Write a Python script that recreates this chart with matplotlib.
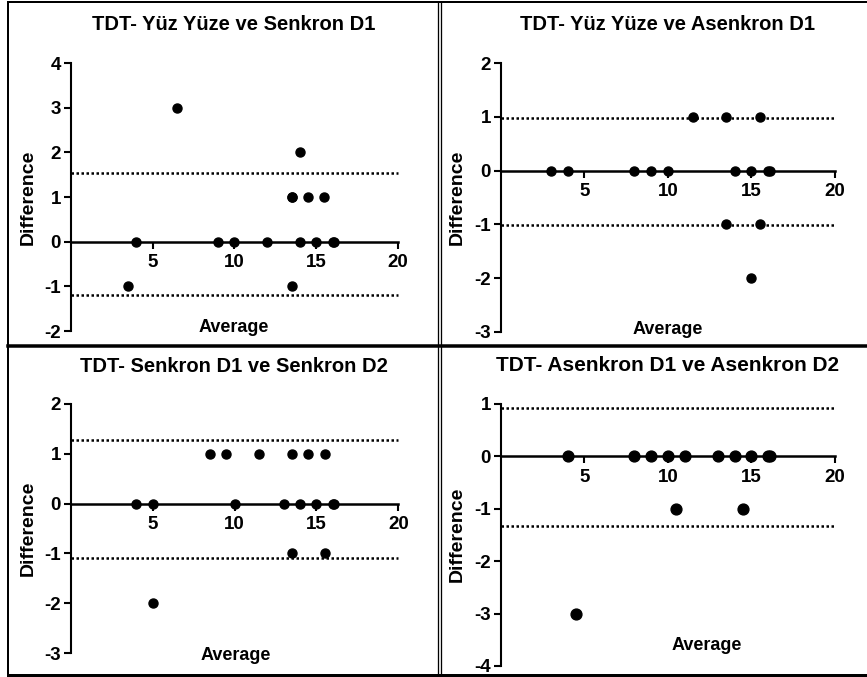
import matplotlib.pyplot as plt
from matplotlib.lines import Line2D

plt.rcParams['font.family'] = ['Liberation Sans', 'DejaVu Sans']
plt.rcParams['font.weight'] = 'bold'
plt.rcParams['axes.unicode_minus'] = False

W, H = 867, 677

# panel titles
titles = [
    'TDT- Yüz Yüze ve Senkron D1',
    'TDT- Yüz Yüze ve Asenkron D1',
    'TDT- Senkron D1 ve Senkron D2',
    'TDT- Asenkron D1 ve Asenkron D2',
]

# Bland-Altman points: average (x) and difference (y)
avg_1 = [3.5, 4, 6.5, 9, 10, 12, 13.5, 13.5, 13.5, 14, 14, 14.5, 15, 15.5, 16, 16.1]
diff_1 = [-1, 0, 3, 0, 0, 0, 1, -1, 1, 2, 0, 1, 0, 1, 0, 0]

avg_2 = [3, 4, 8, 9, 10, 11.5, 13.5, 13.5, 14, 15, 15, 15.5, 15.5, 16, 16.1]
diff_2 = [0, 0, 0, 0, 0, 1, 1, -1, 0, 0, -2, 1, -1, 0, 0]

avg_3 = [4, 5, 5, 8.5, 9.5, 10, 11.5, 13, 13.5, 13.5, 14, 14.5, 15, 15.5, 15.5, 16, 16.1]
diff_3 = [0, 0, -2, 1, 1, 0, 1, 0, 1, -1, 0, 1, 0, 1, -1, 0, 0]

avg_4 = [4, 4.5, 8, 9, 10, 10.5, 11, 13, 14, 14.5, 15, 16, 16.1]
diff_4 = [0, -3, 0, 0, 0, -1, 0, 0, 0, -1, 0, 0, 0]

# limits of agreement (upper, lower)
loa = [(1.53, -1.2), (0.97, -1.02), (1.27, -1.1), (0.93, -1.33)]

# y axis ranges
ylims = [(-2, 4), (-3, 2), (-3, 2), (-4, 1)]
xtick_vals = [5, 10, 15, 20]

xs = [avg_1, avg_2, avg_3, avg_4]
ys = [diff_1, diff_2, diff_3, diff_4]

# axes boxes in pixels: x0, x20, ytop, ybottom
boxes = [(70.7, 398, 63, 331), (500.7, 835, 63, 332),
         (70.7, 398.3, 404, 653), (500.7, 835, 404, 666)]
title_pos = [(234, 24), (668, 24), (234, 367), (668, 366)]
ylabel_pos = [(28, 197), (457, 197), (28, 528), (457, 534)]
xlabel_pos = [(234, 328), (668, 330), (236, 656), (707, 646)]
msizes = [6.5, 6.5, 6.5, 7.8]
title_sizes = [14.5, 14.5, 14.5, 15]


def fx(px):
    return px / W


def fy(py):
    return 1 - py / H


fig = plt.figure(figsize=(W / 100, H / 100), dpi=100)

for i in range(4):
    x0, x1, yt, yb = boxes[i]
    ax = fig.add_axes([fx(x0), fy(yb), fx(x1 - x0), (yb - yt) / H])
    ax.set_xlim(0, 20)
    ax.set_ylim(*ylims[i])
    for s in ['top', 'right']:
        ax.spines[s].set_visible(False)
    ax.spines['bottom'].set_position(('data', 0))
    ax.spines['bottom'].set_linewidth(1.8)
    ax.spines['left'].set_linewidth(1.5)
    yt_vals = list(range(ylims[i][0], ylims[i][1] + 1))
    ax.set_xticks(xtick_vals)
    ax.set_xticklabels([str(v) for v in xtick_vals], fontweight='bold')
    ax.set_yticks(yt_vals)
    ax.set_yticklabels([str(v) for v in yt_vals], fontweight='bold')
    ax.tick_params(axis='both', width=1.5, length=5, labelsize=13.5)
    ax.tick_params(axis='x', pad=4)
    ax.tick_params(axis='y', pad=2)

    for lim in loa[i]:
        ax.plot([0, 20], [lim, lim], color='black', lw=1.8,
                linestyle=(0, (1, 1)), clip_on=False)
    ax.plot(xs[i], ys[i], 'o', color='black', ms=msizes[i],
            clip_on=False, zorder=5)

    fig.text(fx(title_pos[i][0]), fy(title_pos[i][1]), titles[i],
             ha='center', va='center', fontsize=title_sizes[i],
             fontweight='bold')
    fig.text(fx(ylabel_pos[i][0]), fy(ylabel_pos[i][1]), 'Difference',
             ha='center', va='center', rotation=90, fontsize=14,
             fontweight='bold')
    fig.text(fx(xlabel_pos[i][0]), fy(xlabel_pos[i][1]), 'Average',
             ha='center', va='center', fontsize=13, fontweight='bold')

# table borders around the panels
frame = [
    ([8, 867], [2, 2], 2),
    ([8, 8], [2, 675], 2),
    ([8, 867], [675, 675], 3),
    ([8, 867], [346, 346], 3.5),
    ([437.5, 437.5], [2, 675], 1.3),
    ([440.5, 440.5], [2, 675], 1.3),
]
for px, py, lw in frame:
    fig.add_artist(Line2D([fx(p) for p in px], [fy(p) for p in py],
                          color='black', lw=lw * 0.72))

fig.savefig('out.png', dpi=100)
